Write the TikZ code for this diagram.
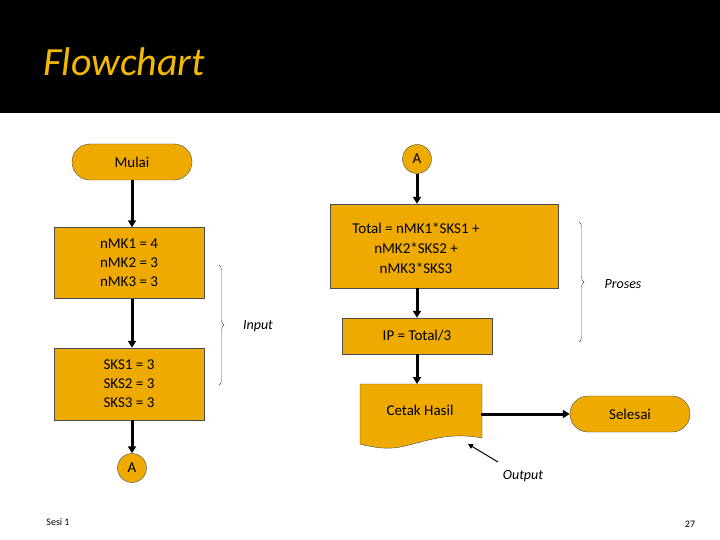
\documentclass[tikz,border=0pt]{standalone}
\usepackage{fontspec}
\setmainfont{Carlito}
\usetikzlibrary{arrows.meta,decorations.pathreplacing}
\definecolor{gold}{HTML}{EFAA00}
\definecolor{ttl}{HTML}{F5B800}
\begin{document}
\begin{tikzpicture}[x=1pt,y=-1pt,
  box/.style={draw=black!70,fill=gold,font=\fontsize{15}{19}\selectfont,align=center,inner sep=0pt},
  term/.style={box,rounded corners=18pt},
  conn/.style={box,circle,minimum size=29pt},
  flow/.style={line width=3pt,-{Triangle[length=7pt,width=8pt]}},
  brc/.style={decorate,decoration={brace,amplitude=5pt},draw=black!70},
  lbl/.style={font=\itshape\fontsize{14}{16}\selectfont}]
\useasboundingbox (0,0) rectangle (720,540);
\fill[white] (0,0) rectangle (720,540);
\fill[black] (0,0) rectangle (720,113);
\node[anchor=west,text=ttl,font=\itshape\fontsize{40}{42}\selectfont] (title) at (40,62) {Flowchart};
% left column
\node[term,minimum width=120pt,minimum height=36pt] (mulai) at (132,162) {Mulai};
\node[box,minimum width=150pt,minimum height=71pt] (nmk) at (129,263) {nMK1 = 4\\nMK2 = 3\\nMK3 = 3};
\node[box,minimum width=150pt,minimum height=72pt] (sks) at (129,384) {SKS1 = 3\\SKS2 = 3\\SKS3 = 3};
\node[conn] (a1) at (132,468) {A};
\draw[flow] (mulai.south -| 132,0) -- (nmk.north -| 132,0);
\draw[flow] (nmk.south -| 132,0) -- (sks.north -| 132,0);
\draw[flow] (sks.south -| 132,0) -- (a1.north);
\coordinate (ib1) at (219,265); \coordinate (ib2) at (219,385);
\draw[brc] (ib1) -- (ib2);
\node[lbl] (inp) at (258,326) {Input};
% right column
\node[conn] (a2) at (417,159) {A};
\node[box,minimum width=228pt,minimum height=84pt] (tot) at (444,246) {};
\node[font=\fontsize{15}{20}\selectfont,align=center] (tott) at (416,248) {Total = nMK1*SKS1 +\\nMK2*SKS2 +\\nMK3*SKS3};
\node[box,minimum width=150pt,minimum height=36pt] (ip) at (417,336) {IP = Total/3};
\draw[draw=black!70,fill=gold] (360,384) -- (482,384) -- (482,438)
  .. controls (450,432) and (430,440) .. (405,446) .. controls (390,450) and (375,448) .. (360,444) -- cycle;
\node[font=\fontsize{15}{18}\selectfont] (cetak) at (420,410) {Cetak Hasil};
\node[term,minimum width=120pt,minimum height=36pt] (selesai) at (630,414) {Selesai};
\draw[flow] (a2.south) -- (tot.north -| 417,0);
\draw[flow] (tot.south -| 417,0) -- (ip.north);
\draw[flow] (ip.south) -- (417,384);
\draw[flow] (481,414) -- (selesai.west);
\coordinate (pb1) at (579,222); \coordinate (pb2) at (579,342);
\draw[brc] (pb1) -- (pb2);
\node[lbl] (pros) at (623,284) {Proses};
\node[lbl] (out) at (523,476) {Output};
\coordinate (o1) at (498,462); \coordinate (o2) at (468,444);
\draw[line width=1pt,-{Triangle[length=5pt,width=5pt]}] (o1) -- (o2);
\node[font=\fontsize{10}{12}\selectfont] (sesi) at (58,522) {Sesi 1};
\node[font=\fontsize{10}{12}\selectfont] (pg) at (690,524) {27};
\end{tikzpicture}
\end{document}
